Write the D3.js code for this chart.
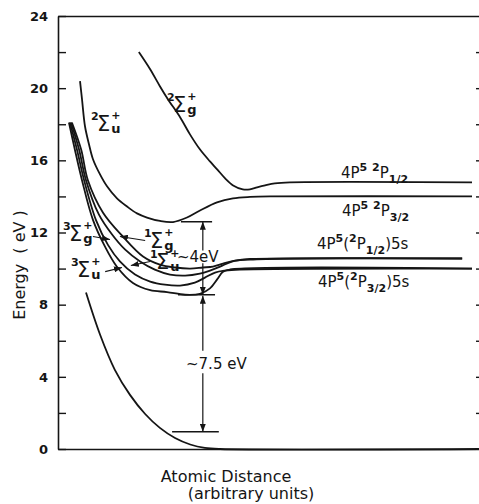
<!DOCTYPE html>
<html>
<head>
<meta charset="utf-8">
<script src="https://cdn.jsdelivr.net/npm/d3@7"></script>
<style>
  body { margin: 0; background: #fff; }
  svg { display: block; font-family: "DejaVu Sans", "Liberation Sans", sans-serif; }
</style>
</head>
<body>
<div id="chart"></div>
<script>
// Energy axis (eV)
const energyTicks = [0, 2, 4, 6, 8, 10, 12, 14, 16, 18, 20, 22, 24];
const energyLabels = [0, 4, 8, 12, 16, 20, 24];

// Potential curves: [atomic distance (arbitrary, 0-100), energy (eV)]
const groundSigmaG = [[6.65, 8.67], [10.0, 6.33], [13.5, 4.39], [17.1, 3.0], [20.7, 1.94], [24.2, 1.17],
  [27.8, 0.61], [31.4, 0.25], [34.9, 0.06], [38.5, 0.0], [100, 0.0]];

const ionSigmaU = [[5.23, 20.39], [5.7, 19.39], [6.41, 17.89], [7.36, 16.89], [8.31, 16.06], [9.98, 15.22],
  [11.64, 14.56], [14.01, 13.89], [16.39, 13.44], [18.76, 13.06], [21.14, 12.83], [24.23, 12.64],
  [27.32, 12.58], [30.64, 12.83], [33.73, 13.22], [37.77, 13.67], [41.57, 13.89], [45.61, 13.97],
  [50.36, 14.0], [98.34, 14.0]];

const ionSigmaG = [[19.2, 22.0], [21.85, 21.06], [24.2, 20.11], [26.1, 19.39], [29.0, 18.39], [31.35, 17.44],
  [33.7, 16.61], [36.1, 15.94], [37.8, 15.5], [39.7, 15.0], [41.6, 14.61], [43.9, 14.39], [45.6, 14.39],
  [47.3, 14.5], [49.2, 14.61], [51.5, 14.72], [55.1, 14.78], [98.34, 14.78]];

// the four excimer curves, top to bottom at their minima
const excimerA = [[3.3, 18.1], [5.5, 16.6], [7.1, 14.9], [10.7, 13.1], [15.4, 11.78], [20.2, 10.67],
  [24.2, 10.22], [27.8, 10.06], [31.4, 10.0], [34.4, 10.06], [36.8, 10.11], [39.2, 10.28], [42.0, 10.44],
  [45.6, 10.53], [96.0, 10.56]];
const excimerB = [[3.1, 18.1], [5.0, 16.6], [6.65, 14.9], [9.7, 13.0], [12.8, 11.9], [15.9, 11.06],
  [19.5, 10.39], [23.0, 9.94], [26.6, 9.67], [30.2, 9.61], [33.7, 9.72], [36.1, 9.89], [38.5, 10.11],
  [41.3, 10.39], [45.6, 10.5], [96.0, 10.56]];
const excimerC = [[2.85, 18.1], [4.5, 16.6], [6.2, 14.9], [9.0, 12.7], [11.9, 11.3], [14.7, 10.4],
  [18.3, 9.67], [21.9, 9.28], [25.4, 9.11], [29.0, 9.06], [32.5, 9.22], [34.9, 9.5], [37.3, 9.78],
  [39.7, 9.89], [43.2, 9.95], [98.34, 10.0]];
const excimerD = [[2.6, 18.1], [4.0, 16.6], [5.7, 14.9], [8.3, 12.7], [11.2, 11.2], [14.0, 10.1],
  [17.8, 9.2], [21.9, 8.8], [25.9, 8.7], [30.2, 8.55], [33.7, 8.6], [36.1, 8.9], [37.8, 9.4],
  [39.2, 9.83], [40.9, 9.95], [98.34, 10.0]];

// energy gap markers: [level, from, to]
const gapMarks = [[12.6, 29.2, 36.6], [8.55, 28.5, 37.3], [0.95, 27.1, 38.2]];
const gapX = 34.4;
// arrow segments of the gap brackets: [from E, to E] (arrow head at "to")
const gapArrows = [[11.0, 12.6], [10.3, 8.55], [5.45, 8.5], [4.2, 0.95]];

// leader arrows from state labels: [x1, E1, x2, E2]
const leaders = [[8.3, 11.78, 12.35, 11.61], [20.7, 11.56, 14.7, 11.78],
  [21.9, 10.39, 17.3, 10.17], [11.2, 9.83, 15.2, 10.06]];

const W = 479, H = 504;
const svg = d3.select('#chart').append('svg').attr('width', W).attr('height', H);

const x = d3.scaleLinear().domain([0, 100]).range([58, 479]);
const y = d3.scaleLinear().domain([0, 24]).range([449, 16]);

const ink = '#151515';

// arrow head
svg.append('defs').append('marker')
    .attr('id', 'head')
    .attr('viewBox', '0 -3 8 6')
    .attr('refX', 8).attr('refY', 0)
    .attr('markerWidth', 8).attr('markerHeight', 6)
    .attr('markerUnits', 'userSpaceOnUse')
    .attr('orient', 'auto')
    .append('path').attr('d', 'M0,-3L8,0L0,3Z').attr('fill', ink);

// left axis, ticks pointing inward
const yAxis = svg.append('g')
    .attr('transform', `translate(${x(0)},0)`)
    .call(d3.axisLeft(y).tickValues(energyTicks).tickSizeInner(-8).tickSizeOuter(0).tickPadding(10)
        .tickFormat(d => energyLabels.includes(d) ? d : ''));
yAxis.select('.domain').attr('stroke', ink).attr('stroke-width', 1.6);
yAxis.selectAll('.tick line').attr('stroke', ink).attr('stroke-width', 1.4);
yAxis.selectAll('.tick text').attr('fill', ink).attr('font-size', 13).attr('font-weight', 'bold')
    .attr('font-family', '"DejaVu Sans", sans-serif');

// right ticks (frame edge is off the picture)
const yRight = svg.append('g')
    .attr('transform', `translate(${x(100) + 1},0)`)
    .call(d3.axisRight(y).tickValues(energyTicks.filter(d => d > 0 && d < 24)).tickSizeInner(-4).tickSizeOuter(0).tickFormat(''));
yRight.select('.domain').remove();
yRight.selectAll('.tick line').attr('stroke', ink).attr('stroke-width', 1.4);

// bottom axis, no ticks
const xAxis = svg.append('g')
    .attr('transform', `translate(0,${y(0)})`)
    .call(d3.axisBottom(x).tickValues([]).tickSizeOuter(0));
xAxis.select('.domain').attr('stroke', ink).attr('stroke-width', 1.6);

// top frame line
const xTop = svg.append('g')
    .attr('transform', `translate(0,${y(24)})`)
    .call(d3.axisTop(x).tickValues([]).tickSizeOuter(0));
xTop.select('.domain').attr('stroke', ink).attr('stroke-width', 1.4);

// curves
const line = d3.line().x(d => x(d[0])).y(d => y(d[1])).curve(d3.curveCatmullRom.alpha(0.5));
const curves = [groundSigmaG, ionSigmaU, ionSigmaG, excimerA, excimerB, excimerC, excimerD];
svg.append('g').selectAll('path').data(curves).join('path')
    .attr('d', line)
    .attr('fill', 'none')
    .attr('stroke', ink)
    .attr('stroke-width', 1.8)
    .attr('stroke-linejoin', 'round');

// gap markers
svg.append('g').selectAll('line').data(gapMarks).join('line')
    .attr('x1', d => x(d[1])).attr('x2', d => x(d[2]))
    .attr('y1', d => y(d[0])).attr('y2', d => y(d[0]))
    .attr('stroke', ink).attr('stroke-width', 1.5);

svg.append('g').selectAll('line').data(gapArrows).join('line')
    .attr('x1', x(gapX)).attr('x2', x(gapX))
    .attr('y1', d => y(d[0])).attr('y2', d => y(d[1]))
    .attr('stroke', ink).attr('stroke-width', 1.2)
    .attr('marker-end', 'url(#head)');

svg.append('g').selectAll('line').data(leaders).join('line')
    .attr('x1', d => x(d[0])).attr('y1', d => y(d[1]))
    .attr('x2', d => x(d[2])).attr('y2', d => y(d[3]))
    .attr('stroke', ink).attr('stroke-width', 1.1)
    .attr('marker-end', 'url(#head)');

// term symbols like 2Σg+
function term(px, py, mult, sub) {
    const g = svg.append('g').attr('fill', ink);
    g.append('text').attr('x', px).attr('y', py - 11).attr('font-size', 11).attr('font-weight', 'bold').text(mult);
    const s = g.append('text').attr('x', px + 6).attr('y', py).attr('font-size', 21).text('Σ');
    const sw = s.node().getComputedTextLength();
    g.append('text').attr('x', px + 6 + sw + 1).attr('y', py - 12).attr('font-size', 11).attr('font-weight', 'bold').text('+');
    g.append('text').attr('x', px + 6 + sw + 1).attr('y', py + 2).attr('font-size', 13).attr('font-weight', 'bold').text(sub);
}
term(167, 112, '2', 'g');
term(91, 131, '2', 'u');
term(63, 241, '3', 'g');
term(144, 248, '1', 'g');
term(150, 269, '1', 'u');
term(71, 277, '3', 'u');

// asymptote labels
function level(px, py, parts) {
    const t = svg.append('text').attr('x', px).attr('y', py).attr('fill', ink)
        .attr('font-size', 15).style('white-space', 'pre');
    let shift = 0;
    parts.forEach(([txt, kind]) => {
        const target = kind === 'sup' ? -7 : kind === 'sub' ? 5 : 0;
        t.append('tspan')
            .attr('dy', target - shift)
            .attr('font-size', kind === 'n' ? 15 : 11)
            .attr('font-weight', kind === 'n' ? 'normal' : 'bold')
            .text(txt);
        shift = target;
    });
}
level(341, 178, [['4P', 'n'], ['5', 'sup'], [' ', 'n'], ['2', 'sup'], ['P', 'n'], ['1/2', 'sub']]);
level(342, 216, [['4P', 'n'], ['5', 'sup'], [' ', 'n'], ['2', 'sup'], ['P', 'n'], ['3/2', 'sub']]);
level(317, 249, [['4P', 'n'], ['5', 'sup'], ['(', 'n'], ['2', 'sup'], ['P', 'n'], ['1/2', 'sub'], [')5s', 'n']]);
level(318, 287, [['4P', 'n'], ['5', 'sup'], ['(', 'n'], ['2', 'sup'], ['P', 'n'], ['3/2', 'sub'], [')5s', 'n']]);

// gap texts
svg.append('text').attr('x', 177).attr('y', 262).attr('font-size', 15).attr('fill', ink).text('~4eV');
svg.append('text').attr('x', 186).attr('y', 369).attr('font-size', 15).attr('fill', ink).text('~7.5 eV');

// axis titles
svg.append('text').attr('x', 226).attr('y', 482).attr('text-anchor', 'middle')
    .attr('font-size', 16).attr('fill', ink).text('Atomic Distance');
svg.append('text').attr('x', 251).attr('y', 499).attr('text-anchor', 'middle')
    .attr('font-size', 16).attr('fill', ink).text('(arbitrary units)');
svg.append('text').attr('transform', 'translate(25,265) rotate(-90)').attr('text-anchor', 'middle')
    .attr('font-size', 16).attr('fill', ink).style('white-space', 'pre').text('Energy  ( eV )');
</script>
</body>
</html>
